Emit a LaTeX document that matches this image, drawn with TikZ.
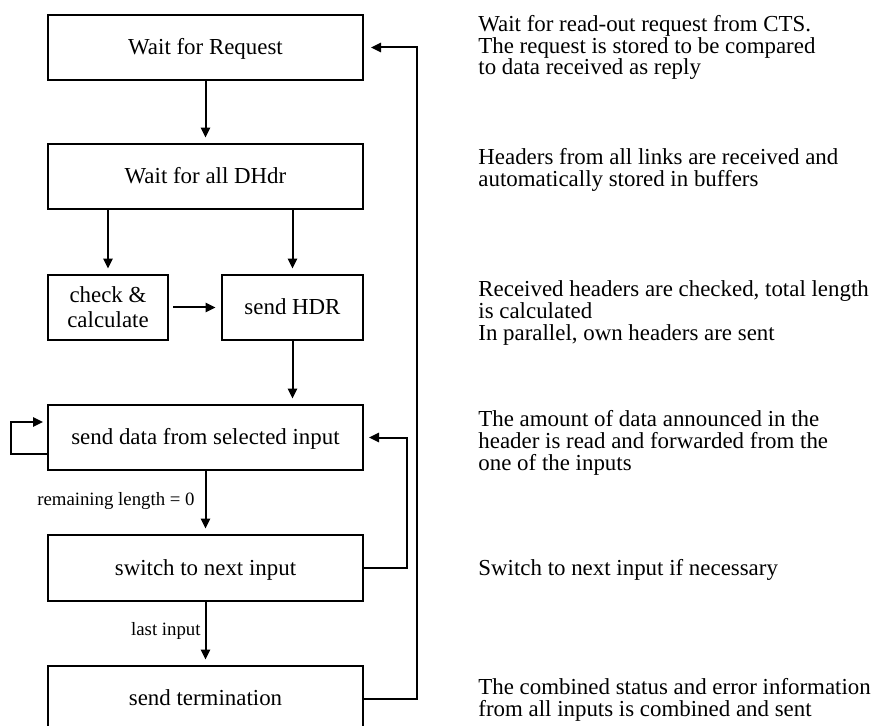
\documentclass[tikz,border=0pt]{standalone}
\usepackage{fontspec}
\setmainfont{Liberation Serif}
\usetikzlibrary{arrows.meta}

\tikzset{
  stepbox/.style={draw, line width=1pt, inner sep=0pt, outer sep=0pt,
    minimum height=32.5pt, align=center,
    font=\fontsize{11.45pt}{12.6pt}\selectfont,
    text height=0.9em, text depth=0.2em},
  wide/.style={minimum width=157.5pt},
  arr/.style={line width=1pt, -{Triangle[length=5pt,width=4.6pt]}, shorten >=3.2pt},
  note/.style={anchor=base west, inner sep=0pt, font=\fontsize{11.45pt}{12pt}\selectfont},
  cond/.style={anchor=base east, inner sep=0pt, font=\fontsize{9.4pt}{10pt}\selectfont}
}

\begin{document}
\begin{tikzpicture}[x=0.5pt, y=-0.5pt]
  \clip (0,0) rectangle (871,726);
  \fill[white] (0,0) rectangle (871,726);

  % state boxes
  \node[stepbox, wide] (req)  at (205.5,47.5)  {Wait for Request};
  \node[stepbox, wide] (dhdr) at (205.5,176.5) {Wait for all DHdr};
  \node[stepbox, minimum width=60pt, text height=,text depth=] (chk) at (108,307.5)
       {check \&\\calculate};
  \node[stepbox, minimum width=70.5pt] (hdr) at (292.5,307.5) {send HDR};
  \node[stepbox, wide] (data) at (205.5,437.5) {send data from selected input};
  \node[stepbox, wide, minimum height=33pt] (next) at (205.5,568) {switch to next input};
  \node[stepbox, wide] (term) at (205.5,698.5) {send termination};

  % transitions
  \draw[arr] (req) -- (dhdr);
  \draw[arr] (chk.north |- dhdr.south) -- (chk.north);
  \draw[arr] (hdr.north |- dhdr.south) -- (hdr.north);
  \draw[arr, shorten <=2.5pt] (chk) -- (hdr);
  \draw[arr] (hdr.south) -- (hdr.south |- data.north);
  \draw[arr] (data) -- (next);
  \draw[arr] (next) -- (term);

  % loops back
  \draw[arr, shorten >=3pt] (next.east) -- ++(44,0) |- (data.east);
  \draw[arr, shorten >=4pt] (term.east) -- ++(54,0) |- (req.east);
  \draw[arr, shorten >=2.5pt] ([yshift=-8.25pt]data.west) -- ++(-37,0)
       |- ([yshift=7.75pt]data.west);

  % transition conditions
  \node[cond] (c1) at (195,505) {remaining length = 0};
  \node[cond] (c2) at (201,635) {last input};

  % explanations
  \node[note] (t1a) at (478,32)  {Wait for read-out request from CTS.};
  \node[note] (t1b) at (478,53.5){The request is stored to be compared};
  \node[note] (t1c) at (478,75)  {to data received as reply};

  \node[note] (t2a) at (478,164.5) {Headers from all links are received and};
  \node[note] (t2b) at (478,186.5) {automatically stored in buffers};

  \node[note] (t3a) at (478,296.5) {Received headers are checked, total length};
  \node[note] (t3b) at (478,318.5) {is calculated};
  \node[note] (t3c) at (478,340.5) {In parallel, own headers are sent};

  \node[note] (t4a) at (478,426.5) {The amount of data announced in the};
  \node[note] (t4b) at (478,448.5) {header is read and forwarded from the};
  \node[note] (t4c) at (478,470.5) {one of the inputs};

  \node[note] (t5a) at (478,575) {Switch to next input if necessary};

  \node[note] (t6a) at (478,694) {The combined status and error information};
  \node[note] (t6b) at (478,716) {from all inputs is combined and sent};
\end{tikzpicture}
\end{document}
